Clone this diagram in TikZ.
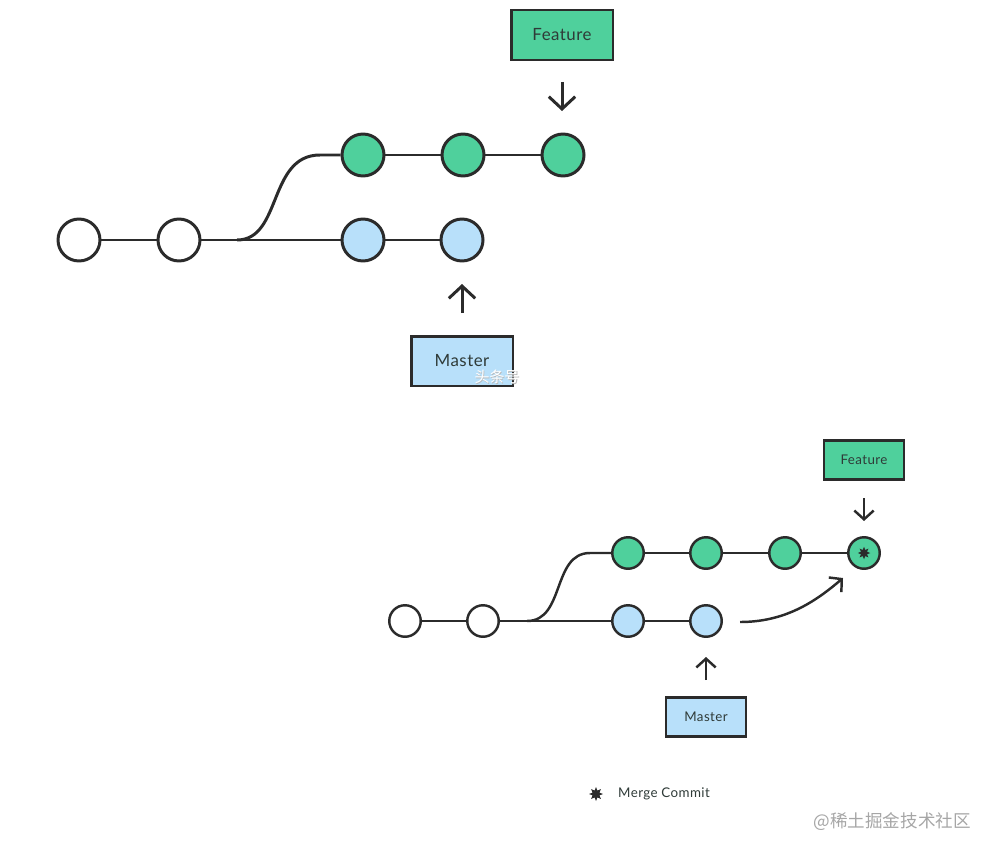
\documentclass[tikz,border=0pt]{standalone}
\usepackage{fontspec}
\setmainfont{Lato}[LetterSpace=3]
\newfontfamily\cjk{Noto Sans CJK SC}
\usetikzlibrary{arrows.meta,shapes.geometric}
\definecolor{ink}{HTML}{2B2B2B}
\definecolor{gfill}{HTML}{4FD09C}
\definecolor{bfill}{HTML}{B8E0FA}
\definecolor{txt}{HTML}{2F3B38}
\tikzset{
  bigc/.style={circle,draw=ink,line width=1.7pt,minimum size=0.84cm,inner sep=0pt},
  smallc/.style={circle,draw=ink,line width=1.4pt,minimum size=0.63cm,inner sep=0pt},
  wc/.style={fill=white},
  gc/.style={fill=gfill},
  bc/.style={fill=bfill},
  bigbox/.style={draw=ink,line width=1.7pt,minimum width=2.04cm,minimum height=1.0cm,inner sep=0pt,font=\fontsize{9.6}{11}\selectfont,text=txt},
  smallbox/.style={draw=ink,line width=1.4pt,minimum width=1.6cm,minimum height=0.78cm,inner sep=0pt,font=\fontsize{7.6}{9}\selectfont,text=txt},
  bigline/.style={draw=ink,line width=1.7pt},
  smallline/.style={draw=ink,line width=1.4pt},
  bigarrow/.style={draw=ink,line width=1.7pt,-{Straight Barb[length=7pt,width=15pt]}},
  smallarrow/.style={draw=ink,line width=1.4pt,-{Straight Barb[length=5pt,width=11pt]}},
}
\begin{document}
\begin{tikzpicture}[x=0.02cm,y=-0.02cm]
\useasboundingbox (0,0) rectangle (1000,855);
% ---------- top diagram ----------
\node[bigc,wc] (tw1) at (79,240) {};
\node[bigc,wc] (tw2) at (179,240) {};
\node[bigc,gc] (tg1) at (363,155) {};
\node[bigc,gc] (tg2) at (463,155) {};
\node[bigc,gc] (tg3) at (563,155) {};
\node[bigc,bc] (tb1) at (363,240) {};
\node[bigc,bc] (tb2) at (462,240) {};
\coordinate (tbr) at (237,240);
\coordinate (tup) at (320,155);
\draw[bigline] (tw1) -- (tw2);
\draw[bigline] (tw2) -- (tb1);
\draw[bigline] (tb1) -- (tb2);
\draw[bigline] (tbr) .. controls (282,240) and (268,155) .. (tup) -- (tg1);
\draw[bigline] (tg1) -- (tg2);
\draw[bigline] (tg2) -- (tg3);
\node[bigbox,fill=gfill] (tfeat) at (562,35) {Feature};
\node[bigbox,fill=bfill] (tmast) at (462,361) {Master};
\coordinate (tfa) at (562,82);
\coordinate (tfb) at (562,111);
\coordinate (tma) at (462,313);
\coordinate (tmb) at (462,284);
\draw[bigarrow] (tfa) -- (tfb);
\draw[bigarrow] (tma) -- (tmb);
\node[font=\cjk\fontsize{8.5}{10}\selectfont,text=gray!55] (wm1s) at (497.8,377.8) {头条号};
\node[font=\cjk\fontsize{8.5}{10}\selectfont,text=white] (wm1) at (497,377) {头条号};
% ---------- bottom diagram ----------
\node[smallc,wc] (bw1) at (405,621) {};
\node[smallc,wc] (bw2) at (483,621) {};
\node[smallc,gc] (bg1) at (628,553) {};
\node[smallc,gc] (bg2) at (706,553) {};
\node[smallc,gc] (bg3) at (785,553) {};
\node[smallc,gc] (bg4) at (864,553) {};
\node[star,star points=8,star point ratio=1.9,fill=ink,inner sep=0pt,minimum size=0.25cm] (ast) at (864,553) {};
\node[smallc,bc] (bb1) at (628,621) {};
\node[smallc,bc] (bb2) at (706,621) {};
\coordinate (bbr) at (527,621);
\coordinate (bup) at (590,553);
\draw[smallline] (bw1) -- (bw2);
\draw[smallline] (bw2) -- (bb1);
\draw[smallline] (bb1) -- (bb2);
\draw[smallline] (bbr) .. controls (565,621) and (552,553) .. (bup) -- (bg1);
\draw[smallline] (bg1) -- (bg2);
\draw[smallline] (bg2) -- (bg3);
\draw[smallline] (bg3) -- (bg4);
\node[smallbox,fill=gfill] (bfeat) at (864,460) {Feature};
\node[smallbox,fill=bfill] (bmast) at (706,717) {Master};
\coordinate (bfa) at (864,498);
\coordinate (bfb) at (864,521);
\coordinate (bma) at (706,680);
\coordinate (bmb) at (706,657);
\draw[smallarrow] (bfa) -- (bfb);
\draw[smallarrow] (bma) -- (bmb);
\coordinate (mga) at (740,622);
\coordinate (mgb) at (843,578);
\draw[smallarrow] (mga) .. controls (785,622) and (815,602) .. (mgb);
% ---------- legend ----------
\node[star,star points=8,star point ratio=1.9,fill=ink,inner sep=0pt,minimum size=0.28cm] (last) at (596,794) {};
\node[anchor=west,font=\fontsize{7.6}{9}\selectfont,text=txt] (ltxt) at (612,794) {Merge Commit};
\node[font=\cjk\fontsize{10}{12}\selectfont,text=gray!70,anchor=east] (wm2) at (977,822) {@稀土掘金技术社区};
\end{tikzpicture}
\end{document}
